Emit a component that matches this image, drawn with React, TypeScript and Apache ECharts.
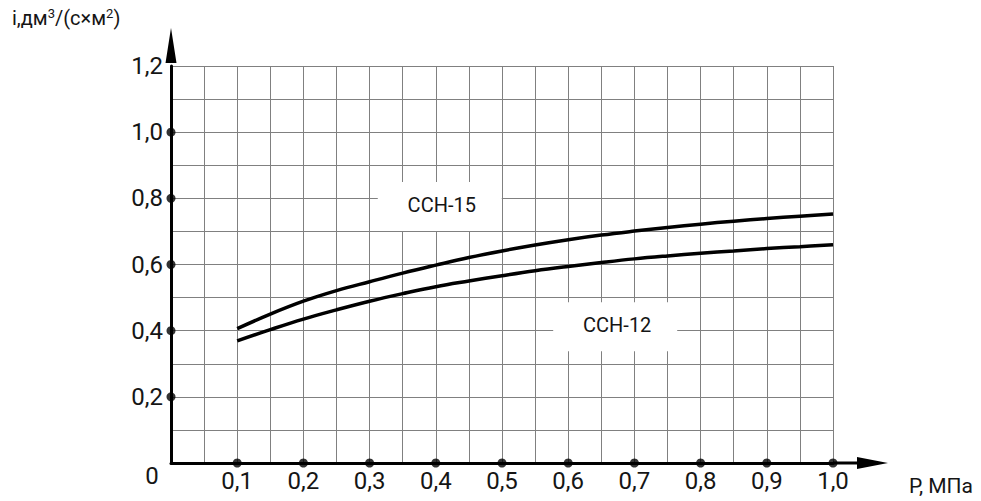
import React, { useEffect, useRef } from "react";
import * as echarts from "echarts";

// Pressure, MPa
const pressure = [0.1, 0.15, 0.2, 0.25, 0.3, 0.35, 0.4, 0.45, 0.5, 0.55, 0.6, 0.65, 0.7, 0.75, 0.8, 0.85, 0.9, 0.95, 1.0];
// ССН-15 values
const ccn15 = [0.406, 0.45, 0.489, 0.521, 0.548, 0.574, 0.598, 0.621, 0.641, 0.659, 0.675, 0.689, 0.701, 0.712, 0.722, 0.731, 0.739, 0.746, 0.753];
// ССН-12 values
const ccn12 = [0.369, 0.403, 0.435, 0.463, 0.489, 0.512, 0.533, 0.55, 0.566, 0.581, 0.594, 0.606, 0.617, 0.626, 0.634, 0.641, 0.648, 0.654, 0.66];

const xTickDots = [0.1, 0.2, 0.3, 0.4, 0.5, 0.6, 0.7, 0.8, 0.9, 1.0];
const yTickDots = [0.2, 0.4, 0.6, 0.8, 1.0];

const seriesNames = ["ССН-15", "ССН-12"];
const labelPos15: [number, number] = [0.406, 0.775];
const labelPos12: [number, number] = [0.671, 0.412];

const FONT = "Roboto";
const TXT = "#151515";
const GRIDC = "#808080";

const fmt = (v: number) => v.toFixed(1).replace(".", ",");

export default function App() {
  const ref = useRef<HTMLDivElement>(null);
  useEffect(() => {
    document.body.style.margin = "0";
    if (!ref.current) return;
    const chart = echarts.init(ref.current, null, { renderer: "svg" });
    const labelBox = (name: string, coord: [number, number]) => ({
      coord,
      symbol: "rect",
      symbolSize: [124, 49],
      itemStyle: { color: "#ffffff" },
      label: {
        show: true,
        position: "inside",
        formatter: name,
        color: TXT,
        fontSize: 20,
        fontFamily: FONT,
        offset: [2, -2],
      },
    });
    chart.setOption({
      animation: false,
      backgroundColor: "#ffffff",
      title: {
        left: 7,
        top: -3,
        text: "{a|i,дм}{s|3}{a|/(с×м}{s|2}{a|)}",
        textStyle: {
          fontWeight: "normal",
          rich: {
            a: { fontSize: 20, fontFamily: FONT, fontWeight: "normal", color: TXT, lineHeight: 26, verticalAlign: "bottom" },
            s: { fontSize: 13, fontFamily: FONT, fontWeight: "normal", color: TXT, lineHeight: 26, verticalAlign: "bottom", padding: [0, 0, 8, 0] },
          },
        },
      },
      grid: { left: 171, right: 148, top: 66, bottom: 38, containLabel: false, outerBoundsMode: "none" },
      xAxis: {
        type: "value",
        min: 0,
        max: 1.0,
        interval: 0.1,
        name: "P, МПа",
        nameLocation: "end",
        nameGap: 76,
        nameTextStyle: { fontSize: 21, fontFamily: FONT, color: TXT, verticalAlign: "top", align: "left", padding: [12, 0, 0, 0] },
        axisLine: {
          show: true,
          lineStyle: { color: "#000", width: 3 },
          symbol: ["none", "path://M6,0 L12,31 L7.5,31 L7.5,55 L4.5,55 L4.5,31 L0,31 Z"],
          symbolSize: [12, 55],
          symbolOffset: [0, 27.5],
        },
        axisTick: { show: false },
        minorTick: { show: false, splitNumber: 2 },
        splitLine: { show: true, lineStyle: { color: GRIDC, width: 1 } },
        minorSplitLine: { show: true, lineStyle: { color: GRIDC, width: 1 } },
        axisLabel: {
          margin: 6,
          fontSize: 24,
          fontFamily: FONT,
          color: TXT,
          showMaxLabel: true,
          formatter: (v: number) => (Math.abs(v) < 1e-9 ? "{z|0}" : fmt(v)),
          rich: { z: { fontSize: 24, fontFamily: FONT, color: TXT, lineHeight: 14, padding: [0, 38, 0, 0] } },
        },
      },
      yAxis: {
        type: "value",
        min: 0,
        max: 1.2,
        interval: 0.2,
        axisLine: {
          show: true,
          lineStyle: { color: "#000", width: 3 },
          symbol: ["none", "triangle"],
          symbolSize: [11, 35],
          symbolOffset: [0, 20.5],
        },
        axisTick: { show: false },
        minorTick: { show: false, splitNumber: 2 },
        splitLine: { show: true, lineStyle: { color: GRIDC, width: 1 } },
        minorSplitLine: { show: true, lineStyle: { color: GRIDC, width: 1 } },
        axisLabel: {
          margin: 8,
          fontSize: 24,
          fontFamily: FONT,
          color: TXT,
          showMaxLabel: true,
          formatter: (v: number) => (Math.abs(v) < 1e-9 ? "" : fmt(v)),
        },
      },
      series: [
        {
          name: seriesNames[0],
          type: "line",
          smooth: 0.4,
          showSymbol: false,
          lineStyle: { color: "#000", width: 3.5 },
          data: pressure.map((p, i) => [p, ccn15[i]]),
          z: 3,
          markPoint: { silent: true, data: [labelBox(seriesNames[0], labelPos15)] },
        },
        {
          name: seriesNames[1],
          type: "line",
          smooth: 0.4,
          showSymbol: false,
          lineStyle: { color: "#000", width: 3.5 },
          data: pressure.map((p, i) => [p, ccn12[i]]),
          z: 3,
          markPoint: { silent: true, data: [labelBox(seriesNames[1], labelPos12)] },
        },
        {
          name: "ticks",
          type: "scatter",
          symbolSize: 9,
          clip: false,
          itemStyle: { color: "#000" },
          z: 5,
          data: [...xTickDots.map((x) => [x, 0]), ...yTickDots.map((y) => [0, y])],
        },
      ],
    });
    return () => chart.dispose();
  }, []);
  return <div ref={ref} style={{ width: 981, height: 501 }} />;
}
